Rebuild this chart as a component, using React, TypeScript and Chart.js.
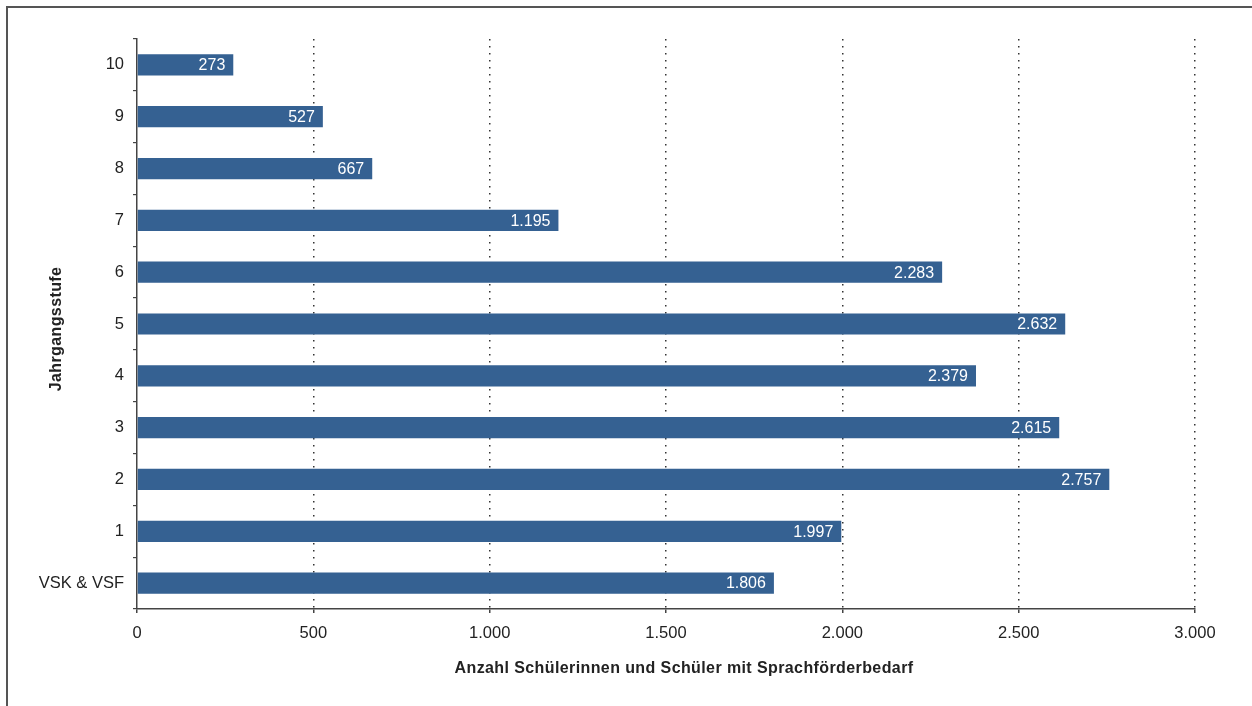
import React, { useEffect, useRef } from "react";
import { Chart, registerables } from "chart.js";

Chart.register(...registerables);

const categories = ["10", "9", "8", "7", "6", "5", "4", "3", "2", "1", "VSK & VSF"];
const values = [273, 527, 667, 1195, 2283, 2632, 2379, 2615, 2757, 1997, 1806];
const xTicks = [0, 500, 1000, 1500, 2000, 2500, 3000];
const xTitle = "Anzahl Schülerinnen und Schüler mit Sprachförderbedarf";
const yTitle = "Jahrgangsstufe";

const FONT = "'Liberation Sans', Arial, sans-serif";
const fmt = (v: number) => v.toLocaleString("de-DE");

export default function App() {
  const ref = useRef<HTMLCanvasElement | null>(null);
  useEffect(() => {
    if (!ref.current) return;
    const labelsPlugin = {
      id: "labelsPlugin",
      beforeDraw(chart: any) {
        const ctx = chart.ctx;
        ctx.save();
        ctx.strokeStyle = "#555";
        ctx.lineWidth = 2;
        ctx.beginPath();
        ctx.moveTo(7, 706);
        ctx.lineTo(7, 7);
        ctx.lineTo(1252, 7);
        ctx.stroke();
        ctx.restore();
      },
      afterDatasetsDraw(chart: any) {
        const ctx = chart.ctx;
        const meta = chart.getDatasetMeta(0);
        ctx.save();
        ctx.fillStyle = "#ffffff";
        ctx.font = `16px ${FONT}`;
        ctx.textAlign = "right";
        ctx.textBaseline = "middle";
        meta.data.forEach((bar: any, i: number) => {
          ctx.fillText(fmt(values[i]), bar.x - 8, bar.y + 1);
        });
        ctx.restore();
      },
      afterDraw(chart: any) {
        const ctx = chart.ctx;
        ctx.save();
        ctx.fillStyle = "#222";
        ctx.font = `bold 16px ${FONT}`;
        (ctx as any).letterSpacing = "0.4px";
        ctx.textAlign = "center";
        ctx.textBaseline = "middle";
        ctx.fillText(xTitle, 684, 669);
        ctx.translate(57, 329);
        ctx.rotate(-Math.PI / 2);
        ctx.fillText(yTitle, 0, 0);
        ctx.restore();
      },
    };
    const chart = new Chart(ref.current, {
      type: "bar",
      data: {
        labels: categories,
        datasets: [
          {
            data: values,
            backgroundColor: "#356192",
            barPercentage: 0.41,
            categoryPercentage: 1,
          },
        ],
      },
      options: {
        indexAxis: "y",
        animation: false,
        responsive: false,
        maintainAspectRatio: false,
        layout: { padding: { left: 0, top: 39, right: 57, bottom: 0 } },
        plugins: {
          legend: { display: false },
          tooltip: { enabled: false },
          title: { display: false },
        },
        scales: {
          x: {
            min: 0,
            max: 3000,
            afterFit: (s: any) => {
              s.height = 97;
            },
            afterBuildTicks: (s: any) => {
              s.ticks = xTicks.map((v) => ({ value: v }));
            },
            ticks: {
              color: "#222",
              font: { size: 16.5, family: FONT },
              padding: 11,
              maxRotation: 0,
              callback: (v: any) => fmt(Number(v)),
            },
            grid: {
              color: (c: any) => (c.tick && c.tick.value === 0 ? "rgba(0,0,0,0)" : "#333"),
              lineWidth: 1.5,
              drawTicks: true,
              tickLength: 4,
              tickColor: "#444",
              tickBorderDash: [],
            },
            border: { display: true, color: "#444", width: 1.5, dash: [1.5, 5.5] },
          },
          y: {
            afterFit: (s: any) => {
              s.width = 137;
            },
            ticks: {
              color: "#222",
              font: { size: 16.5, family: FONT },
              padding: 9,
            },
            grid: {
              offset: true,
              drawOnChartArea: false,
              drawTicks: true,
              tickLength: 4,
              color: "#444",
              lineWidth: 1.2,
            },
            border: { display: true, color: "#444", width: 1.5 },
          },
        },
      },
      plugins: [labelsPlugin],
    });
    return () => chart.destroy();
  }, []);
  return (
    <canvas
      ref={ref}
      width={1252}
      height={706}
      style={{ position: "fixed", left: 0, top: 0, display: "block" }}
    />
  );
}
